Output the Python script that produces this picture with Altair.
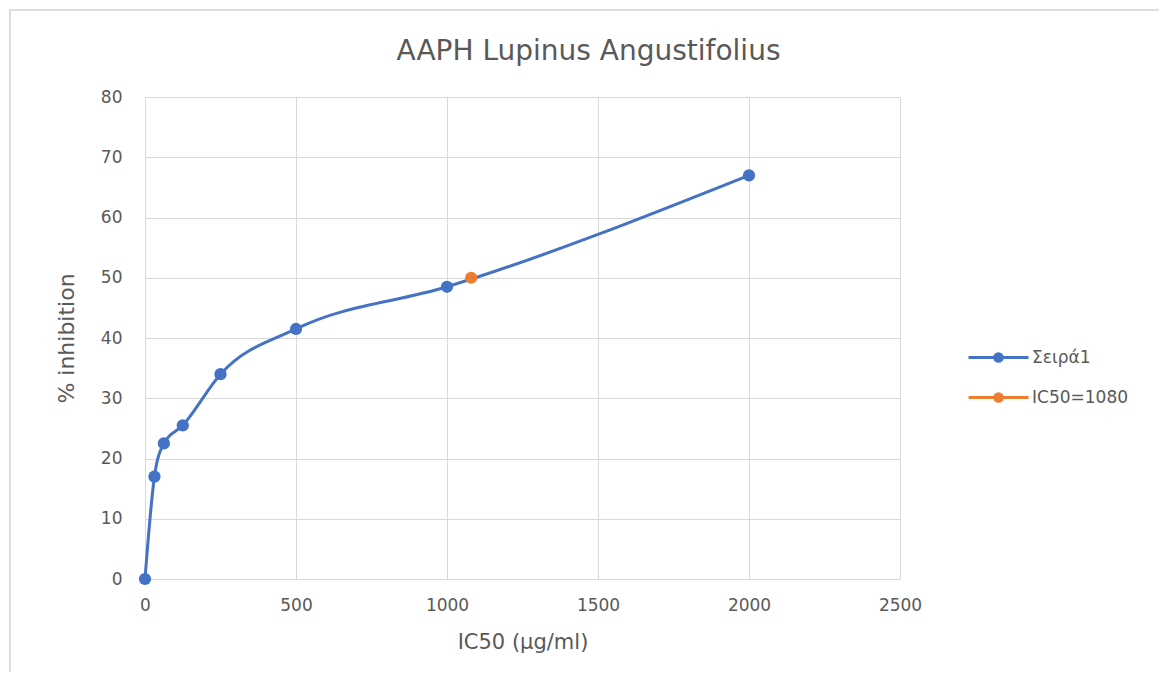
import altair as alt
import pandas as pd

conc = [0, 31.25, 62.5, 125, 250, 500, 1000, 2000]
inhib = [0, 17, 22.5, 25.5, 34, 41.5, 48.5, 67]
ic50_x = [1080]
ic50_y = [50]
series_names = ["Σειρά1", "IC50=1080"]
colors = ["#4472C4", "#ED7D31"]
x_ticks = [0, 500, 1000, 1500, 2000, 2500]
y_ticks = [0, 10, 20, 30, 40, 50, 60, 70, 80]

df1 = pd.DataFrame({"x": conc, "y": inhib, "s": series_names[0]})
df2 = pd.DataFrame({"x": ic50_x, "y": ic50_y, "s": series_names[1]})
df = pd.concat([df1, df2], ignore_index=True)

FONT = "DejaVu Sans"
GRAY = "#595959"

xenc = alt.X("x:Q", scale=alt.Scale(domain=[0, 2500], nice=False),
             axis=alt.Axis(values=x_ticks, title="IC50 (μg/ml)", format="d",
                           labelFlush=False))
yenc = alt.Y("y:Q", scale=alt.Scale(domain=[0, 80], nice=False),
             axis=alt.Axis(values=y_ticks, title="% inhibition"))
cenc = alt.Color("s:N", scale=alt.Scale(domain=series_names, range=colors),
                 legend=alt.Legend(title=None, orient="none", legendX=842, legendY=249,
                                   symbolType="M-3,0H3M0.38,0A0.38,0.38 0 1,1 -0.38,0A0.38,0.38 0 1,1 0.38,0Z",
                                   symbolSize=400, symbolStrokeWidth=3, labelOffset=22,
                                   rowPadding=18, padding=0, labelFontSize=17,
                                   labelColor=GRAY, labelFont=FONT))

# decorative chart-area frame (partly outside the visible page, as in the reference)
frame = alt.Chart(pd.DataFrame({"f": [0]})).mark_rect(
    fill=None, stroke="#d4d4d4", strokeWidth=1.5, clip=False
).encode(x=alt.value(-135), x2=alt.value(1100), y=alt.value(-87), y2=alt.value(700))

line = alt.Chart(df1).mark_line(interpolate="monotone", strokeWidth=3).encode(
    x=xenc, y=yenc, color=cenc)
pts = alt.Chart(df).mark_circle(size=150, opacity=1).encode(
    x=xenc, y=yenc, color=cenc)

chart = alt.layer(frame, line, pts).properties(
    width=755, height=482,
    autosize=alt.AutoSizeParams(type="none"),
    padding={"left": 137, "top": 89, "right": 259, "bottom": 93},
    title=alt.TitleParams("AAPH Lupinus Angustifolius", fontSize=28, font=FONT,
                          color=GRAY, fontWeight="normal", offset=-57, dx=66),
).configure_axis(
    grid=True, gridColor="#d9d9d9", gridWidth=1, domain=False, ticks=False,
    labelFont=FONT, labelFontSize=17, labelColor=GRAY, titleFont=FONT,
    titleColor=GRAY, titleFontWeight="normal",
).configure_axisX(labelPadding=18, titlePadding=18, titleFontSize=21
).configure_axisY(labelPadding=23, titlePadding=22, titleFontSize=22
).configure_view(strokeWidth=0)

chart.save("out.html", embed_options={"renderer": "svg", "actions": False})
